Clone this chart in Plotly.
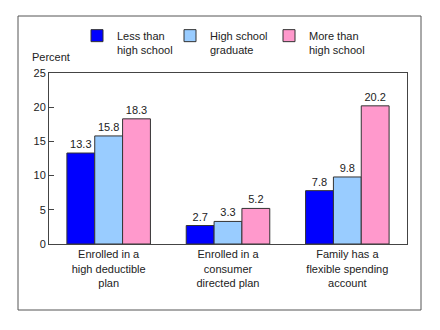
import plotly.graph_objects as go

categories = ["Enrolled in a<br>high deductible<br>plan",
              "Enrolled in a<br>consumer<br>directed plan",
              "Family has a<br>flexible spending<br>account"]
series_names = ["Less than<br>high school", "High school<br>graduate", "More than<br>high school"]
less_than_hs = [13.3, 2.7, 7.8]
hs_graduate = [15.8, 3.3, 9.8]
more_than_hs = [18.3, 5.2, 20.2]
y_ticks = [0, 5, 10, 15, 20, 25]

colors = ["#0000FF", "#99CCFF", "#FF99CC"]
FONT = "Liberation Sans, Arial, sans-serif"
TXT = "#222222"

L, R, T, B = 49, 407, 73, 244
W, H = 440, 330
pw, ph = R - L, B - T

def px(x):
    return (x - L) / pw

def py(y):
    return (B - y) / ph

legend_ids = ["legend", "legend2", "legend3"]
legend_x = [77, 170, 269]

fig = go.Figure()
for name, vals, col, lid in zip(series_names, [less_than_hs, hs_graduate, more_than_hs], colors, legend_ids):
    fig.add_trace(go.Bar(
        x=categories, y=vals, name=name, legend=lid,
        marker=dict(color=col, line=dict(color="#333333", width=1)),
        text=[f"{v:.1f}" for v in vals], textposition="outside",
        textfont=dict(family=FONT, size=11, color=TXT),
        cliponaxis=False,
    ))

legend_common = dict(orientation="h", yanchor="top", xanchor="left", y=py(22),
                     font=dict(family=FONT, size=11, color=TXT), valign="top",
                     bgcolor="rgba(0,0,0,0)")

fig.update_layout(
    width=W, height=H,
    margin=dict(l=L, r=W - R, t=T, b=H - B),
    paper_bgcolor="white", plot_bgcolor="white",
    font=dict(family=FONT, size=11, color=TXT),
    barmode="group", bargap=0.3, bargroupgap=0,
    showlegend=True,
    legend=dict(x=px(legend_x[0]), **legend_common),
    legend2=dict(x=px(legend_x[1]), **legend_common),
    legend3=dict(x=px(legend_x[2]), **legend_common),
    xaxis=dict(showline=True, linecolor="#444444", linewidth=1, mirror=True,
               ticks="", showgrid=False, tickfont=dict(size=11, color=TXT)),
    yaxis=dict(range=[0, 25], tickvals=y_ticks, showline=True, linecolor="#444444",
               linewidth=1, mirror=True, ticks="inside", ticklen=5, tickcolor="#444444",
               showgrid=False, zeroline=False, tickfont=dict(size=11, color=TXT)),
    shapes=[dict(type="rect", xref="paper", yref="paper",
                 x0=px(18), x1=px(421), y0=py(310), y1=py(16),
                 line=dict(color="#555555", width=1), fillcolor="rgba(0,0,0,0)", layer="below")],
    annotations=[dict(text="Percent", xref="paper", yref="paper", x=px(30), y=py(57),
                      xanchor="left", yanchor="middle", showarrow=False,
                      font=dict(family=FONT, size=11, color=TXT))],
)

fig.write_html("out.html")
